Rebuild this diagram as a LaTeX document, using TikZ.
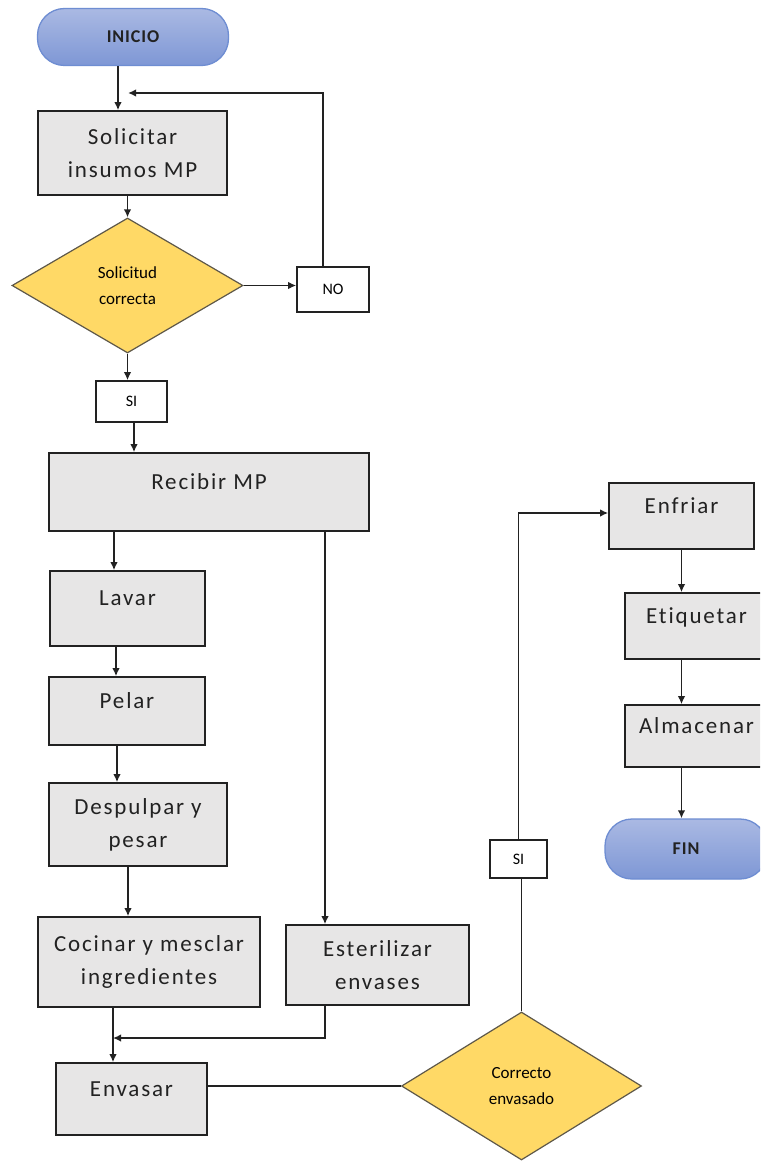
\documentclass[tikz,border=0pt]{standalone}
\usepackage{fontspec}
\setmainfont{Carlito}[Ligatures={NoCommon}]
\newfontfamily\boxfont[LetterSpace=8,Ligatures={NoCommon}]{Carlito}
\newfontfamily\pillfont[LetterSpace=5,Ligatures={NoCommon}]{Carlito}
\usetikzlibrary{shapes.geometric,arrows.meta}
\definecolor{boxgray}{HTML}{E7E6E6}
\definecolor{gold}{HTML}{FFD966}
\definecolor{golddraw}{HTML}{5E5849}
\definecolor{pilltop}{HTML}{AAB9E3}
\definecolor{pillbot}{HTML}{7E97D5}
\definecolor{pilldraw}{HTML}{6E8DD2}
\definecolor{ink}{HTML}{222222}
\begin{document}
\begin{tikzpicture}[x=1pt,y=-1pt,
  box/.style={draw=ink, fill=boxgray, line width=1.6pt, inner sep=0pt, align=center,
    text=ink, font=\boxfont\fontsize{23}{33}\selectfont},
  box1/.style={box, text height=16pt, text depth=22pt},
  dec/.style={diamond, draw=golddraw, fill=gold, line width=1.2pt, inner sep=0pt, align=center,
    font=\fontsize{17}{26}\selectfont},
  tag/.style={draw=ink, fill=white, line width=1.6pt, inner sep=0pt,
    font=\fontsize{16}{18}\selectfont},
  pill/.style={draw=pilldraw, line width=1.3pt, rounded corners=27pt, top color=pilltop,
    bottom color=pillbot, inner sep=0pt, text=ink, font=\pillfont\bfseries\fontsize{18}{22}\selectfont},
  arr/.style={draw=ink, line width=1.6pt, -{Latex[length=8pt,width=7.5pt]}},
  plain/.style={draw=ink, line width=1.6pt}
]
\useasboundingbox (0,0) rectangle (760,1161);
\clip (0,0) rectangle (760,1161);
\fill[white] (0,0) rectangle (760,1161);

\node[pill, minimum width=191pt, minimum height=57pt] (inicio) at (133,37) {INICIO};
\node[box, minimum width=189pt, minimum height=84pt] (sol) at (132.5,153) {Solicitar\\insumos MP};
\node[dec, minimum width=231pt, minimum height=135pt] (d1) at (127.5,285.5) {Solicitud\\correcta};
\node[tag, minimum width=72pt, minimum height=45pt] (no) at (333,289.5) {NO};
\node[tag, minimum width=71pt, minimum height=41pt] (si1) at (131.5,401.5) {SI};
\node[box1, minimum width=320pt, minimum height=78pt] (rec) at (209,492) {Recibir MP};
\node[box1, minimum width=155pt, minimum height=75pt] (lav) at (127.5,608.5) {Lavar};
\node[box1, minimum width=156pt, minimum height=68pt] (pel) at (127,711) {Pelar};
\node[box, minimum width=178pt, minimum height=83pt] (desp) at (138,824.5) {Despulpar y\\pesar};
\node[box, minimum width=222pt, minimum height=90pt] (coc) at (149,962) {Cocinar y mesclar\\ingredientes};
\node[box, minimum width=183pt, minimum height=80pt] (est) at (377.5,965) {Esterilizar\\envases};
\node[box1, minimum width=151pt, minimum height=72pt] (env) at (131.5,1099) {Envasar};
\node[dec, minimum width=240pt, minimum height=148pt] (d2) at (521.5,1086) {Correcto\\envasado};
\node[tag, minimum width=57pt, minimum height=38pt] (si2) at (518.5,859) {SI};
\node[box1, minimum width=145pt, minimum height=66pt] (enf) at (681.5,516) {Enfriar};
\node[box1, minimum width=143pt, minimum height=66pt] (eti) at (696.5,626) {Etiquetar};
\node[box1, minimum width=143pt, minimum height=62pt] (alm) at (696.5,736) {Almacenar};
\node[pill, minimum width=162pt, minimum height=60pt] (fin) at (686,849) {FIN};

\coordinate (loopend) at (128,93);
\coordinate (merge) at (113,1038);

\draw[arr] ([xshift=-15pt]inicio.south) -- ([xshift=-15pt]inicio.south |- sol.north);
\draw[arr] ([xshift=-10pt]no.north) |- (loopend);
\draw[arr] (d1.north |- sol.south) -- (d1.north);
\draw[arr] (d1.east) -- (d1.east -| no.west);
\draw[arr] (d1.south) -- (d1.south |- si1.north);
\draw[arr] ([xshift=2.5pt]si1.south) -- ([xshift=2.5pt]si1.south |- rec.north);
\draw[arr] ([xshift=-13.5pt]lav.north |- rec.south) -- ([xshift=-13.5pt]lav.north);
\draw[arr] ([xshift=-11pt]pel.north |- lav.south) -- ([xshift=-11pt]pel.north);
\draw[arr] ([xshift=-21pt]desp.north |- pel.south) -- ([xshift=-21pt]desp.north);
\draw[arr] ([xshift=-21pt]coc.north |- desp.south) -- ([xshift=-21pt]coc.north);
\draw[arr] ([xshift=-52.5pt]est.north |- rec.south) -- ([xshift=-52.5pt]est.north);
\draw[arr] ([xshift=-18.5pt]env.north |- coc.south) -- ([xshift=-18.5pt]env.north);
\draw[arr] ([xshift=-52.5pt]est.south) |- (merge);
\draw[plain] (d2.west -| env.east) -- (d2.west);
\draw[plain] (d2.north) -- (d2.north |- si2.south);
\draw[arr] (si2.north) |- ([yshift=3pt]enf.west);
\draw[arr] (enf.south) -- (enf.south |- eti.north);
\draw[arr] (enf.south |- eti.south) -- (enf.south |- alm.north);
\draw[arr] (enf.south |- alm.south) -- (enf.south |- fin.north);
\end{tikzpicture}
\end{document}
